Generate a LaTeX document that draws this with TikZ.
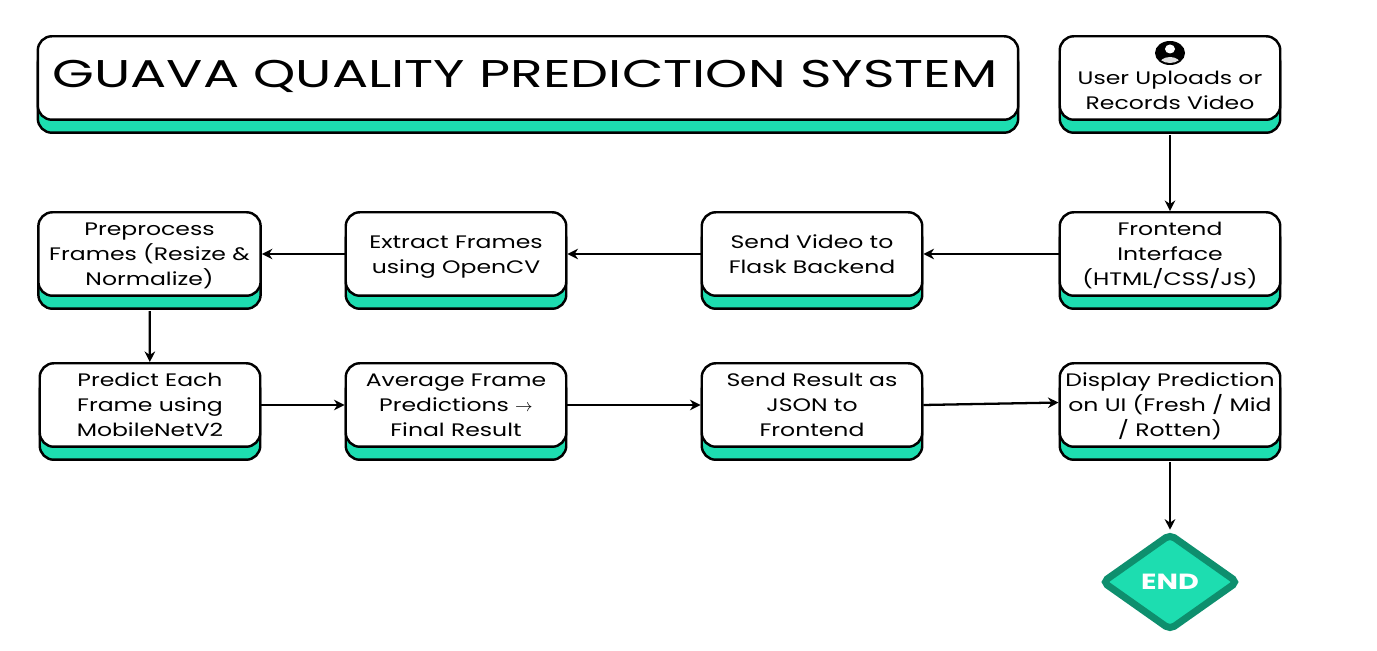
\documentclass[tikz,border=0pt]{standalone}
\usepackage{fontspec}
\setmainfont{Poppins}[FakeStretch=1.3]
\newfontfamily\titlefont{Poppins}[FakeStretch=1.39]
\usetikzlibrary{arrows.meta,shadows,shapes.geometric}
\definecolor{guavateal}{RGB}{29,221,176}
\definecolor{guavadark}{RGB}{14,143,110}
\newcommand{\flowtext}[1]{\rule{0pt}{0.85\baselineskip}#1\strut}
\tikzset{
  flowbox/.style = {draw = black, fill = white, line width = 1.4pt, rounded corners = 8pt,
    minimum width = 125.5pt, minimum height = 47.5pt, inner sep = 0pt, align = center,
    font = \fontsize{10.3}{14.2}\selectfont, text = black,
    copy shadow = {shadow xshift = 0pt, shadow yshift = -7.4pt, fill = guavateal, draw = black, line width = 1.4pt}},
  flowarrow/.style = {-{Stealth[length = 6pt, width = 6pt]}, black, line width = 1.3pt},
  fromshadow/.style = {flowarrow, shorten <= 8pt},
}
\begin{document}
\begin{tikzpicture}[x = 0.02cm, y = -0.02cm]
\useasboundingbox (0, 0) rectangle (1377, 651);
\node[flowbox, minimum width = 558pt, font = \titlefont\fontsize{22}{19.6}\selectfont] (title) at (528, 78){\flowtext{\hspace*{-3.4pt}GUAVA QUALITY PREDICTION SYSTEM}};
\node[flowbox] (user) at (1170, 78){};
\node[flowbox] (front) at (1170, 254){\flowtext{Frontend\\Interface\\(HTML/CSS/JS)}};
\node[flowbox] (send) at (812, 254){\flowtext{Send Video to\\Flask Backend}};
\node[flowbox] (extract) at (456, 254){\flowtext{Extract Frames\\using OpenCV}};
\node[flowbox, minimum width = 126.5pt] (prep) at (149.5, 254){\flowtext{Preprocess\\Frames (Resize \&\\Normalize)}};
\node[flowbox] (predict) at (150, 405){\flowtext{Predict Each\\Frame using\\MobileNetV2}};
\node[flowbox] (average) at (456, 405){\flowtext{Average Frame\\Predictions $\rightarrow$\\Final Result}};
\node[flowbox] (result) at (812, 405){\flowtext{Send Result as\\JSON to\\Frontend}};
\node[flowbox] (display) at (1170, 405){\flowtext{Display Prediction\\on UI (Fresh / Mid\\/ Rotten)}};
\node[diamond, draw = guavadark, fill = guavateal, line width = 4pt, rounded corners = 3pt, inner sep = 0pt, minimum width = 78pt, minimum height = 55.5pt, text = white, font = \fontsize{12.5}{15}\selectfont\bfseries] (end) at (1170, 582){END};
% user box text and icon
\node[align = center, font = \fontsize{10.3}{14.2}\selectfont, text = black] (usertext) at (1170, 90){\flowtext{User Uploads or\\Records Video}};
\fill[black] (1170, 53) ellipse (15 and 12);
\fill[white] (1170, 49) ellipse (5 and 4.5);
\begin{scope}
\clip (1170, 53) ellipse (13 and 10);
\fill[black!12] (1170, 65) ellipse (11 and 8);
\end{scope}
\draw[fromshadow] (user) -- (front);
\draw[flowarrow] (front) -- (send);
\draw[flowarrow] (send) -- (extract);
\draw[flowarrow] (extract) -- (prep);
\draw[fromshadow] (prep) -- (predict);
\draw[flowarrow] (predict) -- (average);
\draw[flowarrow] (average) -- (result);
\draw[flowarrow] (result.east) -- ([yshift = 1.4pt]display.west);
\draw[fromshadow] (display) -- (end);
\end{tikzpicture}
\end{document}
